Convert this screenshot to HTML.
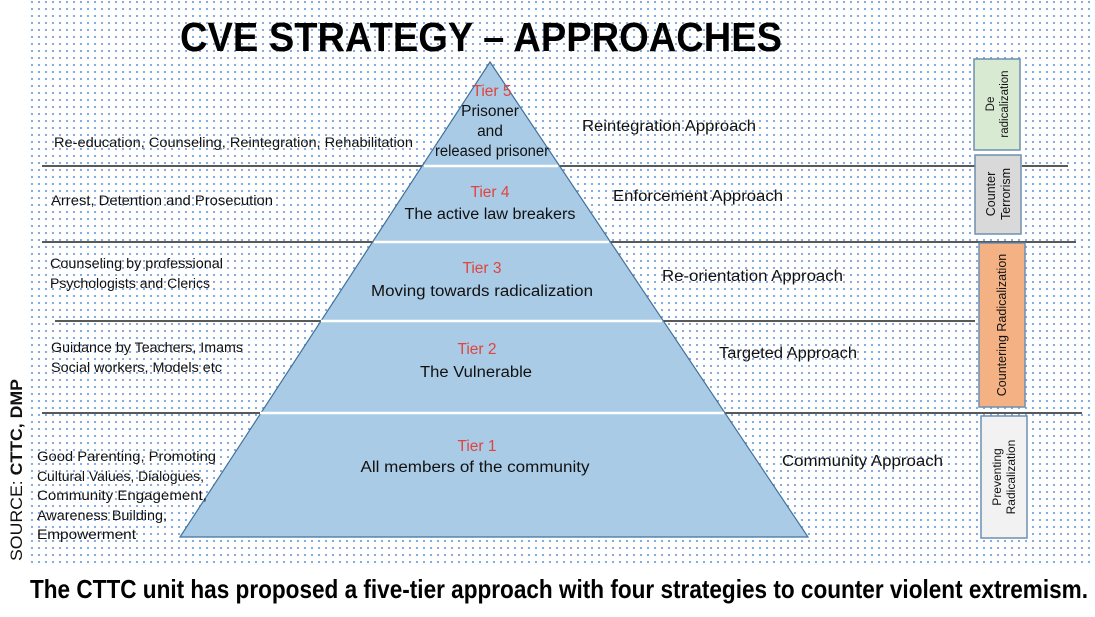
<!DOCTYPE html>
<html><head><meta charset="utf-8"><style>
html,body{margin:0;padding:0;background:#fff;}
svg{display:block;}
text{font-family:"Liberation Sans",sans-serif;}
</style></head><body>
<svg width="1095" height="617" viewBox="0 0 1095 617" xmlns="http://www.w3.org/2000/svg">
<defs>
<pattern id="dots" x="30" y="0" width="7" height="7" patternUnits="userSpaceOnUse">
<circle cx="2" cy="2" r="1.15" fill="#7ea6dc"/>
</pattern>
</defs>
<rect x="0" y="0" width="1095" height="617" fill="#fff"/>
<rect x="30" y="0" width="1062" height="564" fill="url(#dots)"/>
<text x="180" y="51" font-size="41" font-weight="bold" textLength="602" lengthAdjust="spacingAndGlyphs" fill="#000">CVE STRATEGY – APPROACHES</text>
<g stroke="#222" stroke-width="1.4">
<line x1="42" y1="166" x2="975" y2="166"/>
<line x1="1022" y1="166" x2="1068" y2="166"/>
<line x1="42" y1="242" x2="1076" y2="242"/>
<line x1="55" y1="321" x2="975" y2="321"/>
<line x1="42" y1="413" x2="1082" y2="413"/>
</g>
<polygon points="490,62 808,537 180,537" fill="#a9cbe6" stroke="#41719c" stroke-width="1.2"/>
<g stroke="#fff" stroke-width="2.5">
<line x1="424" y1="166" x2="558" y2="166"/>
<line x1="374" y1="242" x2="609" y2="242"/>
<line x1="321" y1="321" x2="662" y2="321"/>
<line x1="260" y1="413" x2="724" y2="413"/>
</g>
<g font-size="15.5" text-anchor="middle" fill="#111">
<text x="492" y="96" fill="#e0443e">Tier 5</text>
<text x="490" y="116">Prisoner</text>
<text x="490" y="136">and</text>
<text x="492" y="156" textLength="114" lengthAdjust="spacingAndGlyphs">released prisoner</text>
<text x="490" y="197" fill="#e0443e">Tier 4</text>
<text x="490" y="219" textLength="171" lengthAdjust="spacingAndGlyphs">The active law breakers</text>
<text x="482" y="273" fill="#e0443e">Tier 3</text>
<text x="482" y="296" textLength="222" lengthAdjust="spacingAndGlyphs">Moving towards radicalization</text>
<text x="477" y="354" fill="#e0443e">Tier 2</text>
<text x="476" y="377" textLength="112" lengthAdjust="spacingAndGlyphs">The Vulnerable</text>
<text x="477" y="451" fill="#e0443e">Tier 1</text>
<text x="475" y="472" textLength="229" lengthAdjust="spacingAndGlyphs">All members of the community</text>
</g>
<g font-size="14" fill="#111">
<text x="54" y="147" textLength="359" lengthAdjust="spacingAndGlyphs">Re-education, Counseling, Reintegration, Rehabilitation</text>
<text x="51" y="205" textLength="222" lengthAdjust="spacingAndGlyphs">Arrest, Detention and Prosecution</text>
<text x="50" y="268" textLength="173" lengthAdjust="spacingAndGlyphs">Counseling by professional</text>
<text x="50" y="288" textLength="160" lengthAdjust="spacingAndGlyphs">Psychologists and Clerics</text>
<text x="51" y="352" textLength="192" lengthAdjust="spacingAndGlyphs">Guidance by Teachers, Imams</text>
<text x="51" y="372" textLength="171" lengthAdjust="spacingAndGlyphs">Social workers, Models etc</text>
<text x="37" y="461" textLength="179" lengthAdjust="spacingAndGlyphs">Good Parenting, Promoting</text>
<text x="37" y="481" textLength="167" lengthAdjust="spacingAndGlyphs">Cultural Values, Dialogues,</text>
<text x="37" y="500" textLength="170" lengthAdjust="spacingAndGlyphs">Community Engagement,</text>
<text x="37" y="520" textLength="130" lengthAdjust="spacingAndGlyphs">Awareness Building,</text>
<text x="37" y="539" textLength="99" lengthAdjust="spacingAndGlyphs">Empowerment</text>
</g>
<g font-size="15.5" fill="#111">
<text x="582" y="131" textLength="174" lengthAdjust="spacingAndGlyphs">Reintegration Approach</text>
<text x="613" y="201" textLength="170" lengthAdjust="spacingAndGlyphs">Enforcement Approach</text>
<text x="662" y="281" textLength="181" lengthAdjust="spacingAndGlyphs">Re-orientation Approach</text>
<text x="719" y="358" textLength="138" lengthAdjust="spacingAndGlyphs">Targeted Approach</text>
<text x="782" y="466" textLength="161" lengthAdjust="spacingAndGlyphs">Community Approach</text>
</g>
<rect x="974" y="59" width="46" height="91" fill="#d9ead3" stroke="#6f8fb0" stroke-width="1.5"/>
<rect x="975" y="155" width="46" height="79" fill="#d9d9d9" stroke="#6f8fb0" stroke-width="1.5"/>
<rect x="979" y="243" width="46" height="164" fill="#f4b183" stroke="#6f8fb0" stroke-width="1.5"/>
<rect x="981" y="416" width="46" height="122" fill="#f2f2f2" stroke="#6f8fb0" stroke-width="1.5"/>
<g fill="#111" text-anchor="middle">
<text transform="translate(997,104) rotate(-90)" font-size="11.5"><tspan x="0" y="-3">De</tspan><tspan x="0" y="11">radicalization</tspan></text>
<text transform="translate(998,194) rotate(-90)" font-size="12.5"><tspan x="0" y="-3">Counter</tspan><tspan x="0" y="12">Terrorism</tspan></text>
<text transform="translate(1002,325) rotate(-90)" font-size="12.5"><tspan x="0" y="4">Countering Radicalization</tspan></text>
<text transform="translate(1004,477) rotate(-90)" font-size="12"><tspan x="0" y="-3">Preventing</tspan><tspan x="0" y="11">Radicalization</tspan></text>
</g>
<text transform="translate(22,561) rotate(-90)" font-size="17" fill="#111" textLength="182" lengthAdjust="spacingAndGlyphs">SOURCE: <tspan font-weight="bold">CTTC, DMP</tspan></text>
<text x="30" y="598" font-size="26" font-weight="bold" fill="#000" textLength="1058" lengthAdjust="spacingAndGlyphs">The CTTC unit has proposed a five-tier approach with four strategies to counter violent extremism.</text>
</svg>
</body></html>
